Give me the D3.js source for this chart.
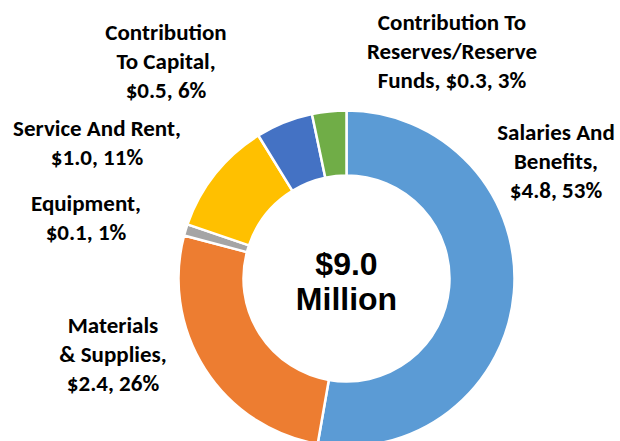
<!DOCTYPE html>
<html>
<head>
<meta charset="utf-8">
<script src="https://cdn.jsdelivr.net/npm/d3@7"></script>
<style>
  body { margin: 0; background: #fff; }
  svg { display: block; }
  .lbl { font-family: Carlito, Lato, "Open Sans", sans-serif; font-weight: bold; font-size: 23px; fill: #000; }
  .center { font-family: "Liberation Sans", Arial, sans-serif; font-weight: bold; font-size: 32px; fill: #000; }
</style>
</head>
<body>
<div id="chart"></div>
<script>
// budget categories, in millions
const categories = ["Salaries And Benefits", "Materials & Supplies", "Equipment", "Service And Rent", "Contribution To Capital", "Contribution To Reserves/Reserve Funds"];
const values = [4.8, 2.4, 0.1, 1.0, 0.5, 0.3];
const percents = ["53%", "26%", "1%", "11%", "6%", "3%"];
const colors = ["#5B9BD5", "#ED7D31", "#A5A5A5", "#FFC000", "#4472C4", "#70AD47"];
// how each label wraps in the picture
const labelLines = [
    ["Salaries And", "Benefits,", "$4.8, 53%"],
    ["Materials", "& Supplies,", "$2.4, 26%"],
    ["Equipment,", "$0.1, 1%"],
    ["Service And Rent,", "$1.0, 11%"],
    ["Contribution", "To Capital,", "$0.5, 6%"],
    ["Contribution To", "Reserves/Reserve", "Funds, $0.3, 3%"]
];
const centerLines = ["$9.0", "Million"];

const width = 620, height = 441;
const cx = 346.5, cy = 278.5;
const outerR = 168, innerR = 103;
const lineH = 29;
// label anchor (center of first line) placed by hand like the original
const labelPos = [[556, 132], [113, 325], [86, 203], [97, 128], [166, 32], [452, 22]];

const svg = d3.select("#chart").append("svg")
    .attr("width", width)
    .attr("height", height);

const pie = d3.pie().sort(null).value(d => d);
const arc = d3.arc().innerRadius(innerR).outerRadius(outerR);

const g = svg.append("g").attr("transform", `translate(${cx},${cy})`);

g.selectAll("path")
    .data(pie(values))
    .join("path")
    .attr("d", arc)
    .attr("fill", (d, i) => colors[i])
    .attr("stroke", "#fff")
    .attr("stroke-width", 2.5)
    .attr("stroke-linejoin", "round");

g.append("text")
    .attr("class", "center")
    .attr("text-anchor", "middle")
    .selectAll("tspan")
    .data(centerLines)
    .join("tspan")
    .attr("x", 0)
    .attr("y", (d, i) => -15 + i * 35)
    .attr("dy", "0.35em")
    .text(d => d);

svg.selectAll(".lbl")
    .data(labelLines)
    .join("text")
    .attr("class", "lbl")
    .attr("text-anchor", "middle")
    .each(function (lines, i) {
        d3.select(this).selectAll("tspan")
            .data(lines)
            .join("tspan")
            .attr("x", labelPos[i][0])
            .attr("y", (d, j) => labelPos[i][1] + j * lineH)
            .attr("dy", "0.36em")
            .text(d => d);
    });
</script>
</body>
</html>
